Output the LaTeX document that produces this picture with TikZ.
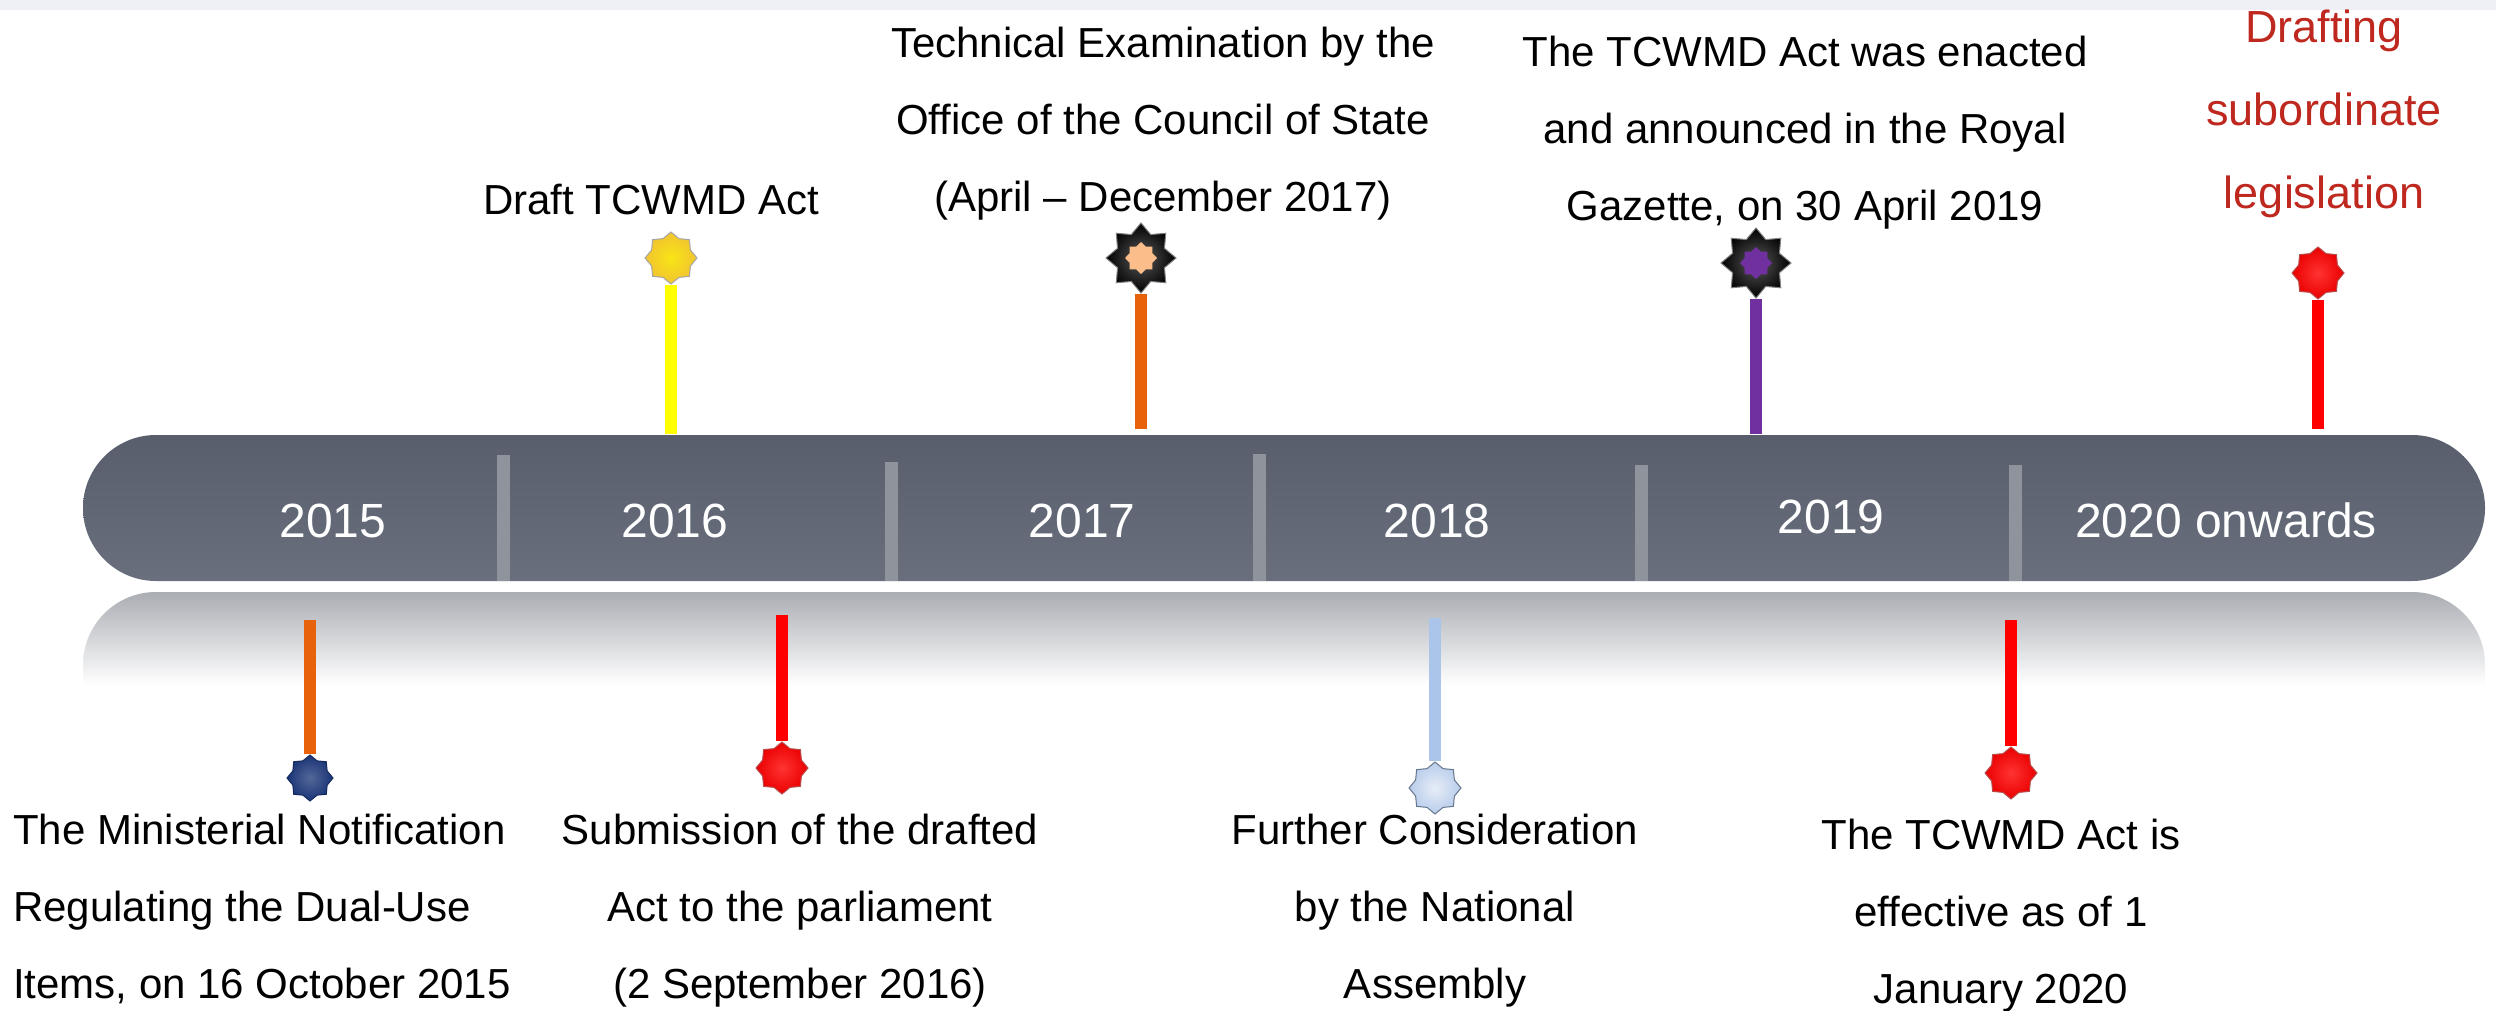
\documentclass[tikz,border=0pt]{standalone}
\usepackage{fontspec}
\setmainfont{Liberation Sans}
\usetikzlibrary{shapes.geometric,shapes.misc}

\definecolor{bandgray}{RGB}{239,240,245}
\definecolor{bartop}{RGB}{88,94,108}
\definecolor{barbot}{RGB}{105,111,125}
\definecolor{divgray}{RGB}{142,147,156}
\definecolor{reflgray}{RGB}{170,173,179}
\definecolor{stemyellow}{RGB}{255,255,0}
\definecolor{stemorange}{RGB}{232,98,12}
\definecolor{stempurple}{RGB}{112,48,160}
\definecolor{stemred}{RGB}{255,0,0}
\definecolor{stemblue}{RGB}{170,196,234}
\definecolor{staryellow}{RGB}{240,196,48}
\definecolor{starnavy}{RGB}{26,52,118}
\definecolor{starpeach}{RGB}{251,190,138}
\definecolor{starlblue}{RGB}{184,204,234}
\definecolor{legred}{RGB}{190,40,30}

\pgfdeclarelayer{front}
\pgfsetlayers{main,front}

\tikzset{
  stemline/.style={line width=12.5pt, line cap=butt},
  seal/.style={star, star points=8, star point ratio=1.24, inner sep=0pt,
               minimum size=#1, line width=1pt},
  redseal/.style={seal=#1, shade, inner color=red!80, outer color=red!92!black,
               draw=red!60!black!70},
  darkseal/.style={star, star points=8, star point ratio=1.38, inner sep=0pt,
               minimum size=#1, shade, inner color=black!65, outer color=black,
               draw=black!50, line width=1pt},
  innerseal/.style={star, star points=8, star point ratio=1.3, inner sep=0pt,
               minimum size=#1},
  evtext/.style={font=\fontsize{42}{77}\selectfont, align=center,
                 anchor=north, inner sep=0pt},
  yeartext/.style={text=white, font=\fontsize{48}{50}\selectfont,
                   anchor=base, inner sep=0pt},
  divider/.style={fill=divgray}
}

\begin{document}
\begin{tikzpicture}[x=1pt,y=-1pt]
\useasboundingbox (0,0) rectangle (2496,1010);
\fill[white] (0,0) rectangle (2496,1010);
\fill[bandgray] (0,0) rectangle (2496,10);

% mirrored glow beneath the bar
\shade[rounded corners=73pt, top color=reflgray, bottom color=white]
  (83,685) -- (83,592) -- (2485,592) -- (2485,685);

% the timeline bar
\node[rounded rectangle, minimum width=2402pt, minimum height=146pt,
      inner sep=0pt, shade, top color=bartop, bottom color=barbot]
      (bar) at (1284,508) {};

% year dividers
\fill[divider] (497,455) rectangle (510,581);
\fill[divider] (885,462) rectangle (898,581);
\fill[divider] (1253,454) rectangle (1266,581);
\fill[divider] (1635,465) rectangle (1648,581);
\fill[divider] (2009,465) rectangle (2022,581);

% year labels
\node[yeartext] (y15) at (333,537) {2015};
\node[yeartext] (y16) at (675,537) {2016};
\node[yeartext] (y17) at (1082,537) {2017};
\node[yeartext] (y18) at (1437,537) {2018};
\node[yeartext] (y19) at (1831,533) {2019};
\node[yeartext] (y20) at (2226,537) {2020 onwards};

% stem feet on the bar
\coordinate (t1) at (671,434);
\coordinate (t2) at (1141,429);
\coordinate (t3) at (1756,434);
\coordinate (t4) at (2318,429);
\coordinate (b5) at (310,620);
\coordinate (b6) at (782,615);
\coordinate (b7) at (1435,618);
\coordinate (b8) at (2011,620);

% star heads, kept on the front layer so the stems pass beneath them
\begin{pgfonlayer}{front}
\node[seal=52pt, shade, inner color=yellow!55!staryellow, outer color=staryellow,
      draw=black!35] (s1) at (671,258) {};
\node[darkseal=70pt] (s2) at (1141,258) {};
\node[innerseal=32pt, fill=starpeach] (s2in) at (s2) {};
\node[darkseal=70pt] (s3) at (1756,263) {};
\node[innerseal=32pt, fill=stempurple] (s3in) at (s3) {};
\node[redseal=52pt] (s4) at (2318,273) {};
\node[seal=46pt, shade, inner color=starnavy!75!white, outer color=starnavy,
      draw=starnavy!80!black] (s5) at (310,778) {};
\node[redseal=52pt] (s6) at (782,768) {};
\node[seal=52pt, shade, inner color=white!65!starlblue, outer color=starlblue,
      draw=stemblue!60!black] (s7) at (1435,788) {};
\node[redseal=52pt] (s8) at (2011,773) {};
\end{pgfonlayer}

% stems
\draw[stemline, stemyellow] (t1) -- (s1.south);
\draw[stemline, stemorange] (t2) -- (s2.south);
\draw[stemline, stempurple] (t3) -- (s3.south);
\draw[stemline, stemred] (t4) -- (s4.south);
\draw[stemline, stemorange] (b5) -- (s5.north);
\draw[stemline, stemred] (b6) -- (s6.north);
\draw[stemline, stemblue] (b7) -- (s7.north);
\draw[stemline, stemred] (b8) -- (s8.north);

% event descriptions above
\node[evtext] (e1) at (651,184) {Draft TCWMD Act};
\node[evtext] (e2) at (1163,27) {Technical Examination by the\\Office of the Council of State\\(April -- December 2017)};
\node[evtext] (e3) at (1805,36) {The TCWMD Act was enacted\\and announced in the Royal\\Gazette, on 30 April 2019};
\node[evtext, text=legred, font=\fontsize{45}{83}\selectfont] (e4) at (2324,10)
     {Drafting\\subordinate\\legislation};

% event descriptions below
\node[evtext, align=left, anchor=north west] (e5) at (13,814)
     {The Ministerial Notification\\Regulating the Dual-Use\\Items, on 16 October 2015};
\node[evtext] (e6) at (800,814) {Submission of the drafted\\Act to the parliament\\(2 September 2016)};
\node[evtext] (e7) at (1435,814) {Further Consideration\\by the National\\Assembly};
\node[evtext] (e8) at (2001,819) {The TCWMD Act is\\effective as of 1\\January 2020};
\end{tikzpicture}
\end{document}
